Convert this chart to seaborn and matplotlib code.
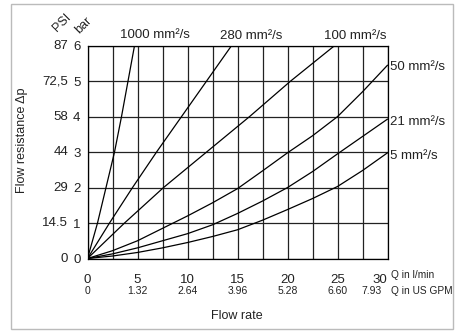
import numpy as np
import pandas as pd
import matplotlib
matplotlib.use('Agg')
import matplotlib.pyplot as plt
from matplotlib.patches import Rectangle
import seaborn as sns

# curves: flow rate Q (l/min) vs flow resistance dp (bar)
q_1000 = [0, 1.0, 1.85, 2.7, 3.4, 4.05, 4.7]
dp_1000 = [0, 1, 2, 3, 4, 5, 6]
q_280 = [0, 2.2, 4.5, 6.9, 9.4, 11.9, 14.4]
dp_280 = [0, 1, 2, 3, 4, 5, 6]
q_100 = [0, 3.7, 7.6, 11.9, 16.2, 20.3, 24.7]
dp_100 = [0, 1, 2, 3, 4, 5, 6]
q_low = [0, 2.5, 5, 7.5, 10, 12.5, 15, 17.5, 20, 22.5, 25, 27.5, 30]
dp_50 = [0, 0.22, 0.5, 0.85, 1.2, 1.57, 1.97, 2.47, 2.98, 3.46, 4.0, 4.7, 5.45]
dp_21 = [0, 0.13, 0.3, 0.5, 0.7, 0.95, 1.27, 1.62, 2.0, 2.45, 2.95, 3.44, 3.93]
dp_5 = [0, 0.07, 0.17, 0.3, 0.45, 0.62, 0.81, 1.08, 1.38, 1.69, 2.03, 2.48, 2.98]

bar_ticks = [0, 1, 2, 3, 4, 5, 6]
psi_labels = ['0', '14.5', '29', '44', '58', '72,5', '87']
lmin_ticks = [0, 5, 10, 15, 20, 25, 30]
gpm_labels = ['0', '1.32', '2.64', '3.96', '5.28', '6.60', '7.93']

df = pd.concat([
    pd.DataFrame({'Q': q_1000, 'dp': dp_1000, 'visc': '1000'}),
    pd.DataFrame({'Q': q_280, 'dp': dp_280, 'visc': '280'}),
    pd.DataFrame({'Q': q_100, 'dp': dp_100, 'visc': '100'}),
    pd.DataFrame({'Q': q_low, 'dp': dp_50, 'visc': '50'}),
    pd.DataFrame({'Q': q_low, 'dp': dp_21, 'visc': '21'}),
    pd.DataFrame({'Q': q_low, 'dp': dp_5, 'visc': '5'}),
], ignore_index=True)

sns.set_style('white')
plt.rcParams['font.family'] = ['Liberation Sans Narrow', 'Liberation Sans', 'DejaVu Sans']
plt.rcParams['text.color'] = '#222222'
plt.rcParams['xtick.labelcolor'] = '#222222'
plt.rcParams['ytick.labelcolor'] = '#222222'

W, H = 460, 331
fig = plt.figure(figsize=(W / 100, H / 100), dpi=100)
ax = fig.add_axes([87.5 / W, 1 - 258.5 / H, 300 / W, 212.8 / H])

sns.lineplot(data=df, x='Q', y='dp', units='visc', estimator=None,
             color='black', linewidth=0.9, sort=False, ax=ax, legend=False)

ax.set_xlim(0, 30)
ax.set_ylim(0, 6)
ax.set_xticks(np.arange(0, 30.1, 2.5))
ax.set_xticklabels([str(int(v)) if v % 5 == 0 else '' for v in np.arange(0, 30.1, 2.5)],
                   fontsize=9.5)
ax.get_xticklabels()[-1].set_ha('right')
ax.set_yticks(bar_ticks)
ax.set_yticklabels([str(v) for v in bar_ticks], fontsize=9.5)
ax.tick_params(direction='out', length=3, width=0.8, color='black', pad=2)
ax.tick_params(axis='x', pad=8)
ax.grid(True, color='#222222', linewidth=0.9)
for s in ax.spines.values():
    s.set_color('black')
    s.set_linewidth(0.9)
ax.set_xlabel('')
ax.set_ylabel('')

# PSI column
for v, lab in zip(bar_ticks, psi_labels):
    ax.text(-19.5 / 300, v, lab, transform=ax.get_yaxis_transform(),
            ha='right', va='center', fontsize=9.5)
# US GPM row (last one sits left of the axis end)
for v, lab in zip(lmin_ticks, gpm_labels):
    last = v == lmin_ticks[-1]
    ax.text(v - (0.55 if last else 0), -33 / 212.8, lab,
            transform=ax.get_xaxis_transform(),
            ha='right' if last else 'center', va='center', fontsize=7.5)

def ft(x, y, s, **kw):
    fig.text(x / W, 1 - y / H, s, **kw)

ft(391, 275, 'Q in l/min', ha='left', va='center', fontsize=7.3)
ft(391, 291.5, 'Q in US GPM', ha='left', va='center', fontsize=7.3)
ft(237, 316, 'Flow rate', ha='center', va='center', fontsize=9)
ft(22, 140, 'Flow resistance \u0394p', ha='center', va='center', rotation=90, fontsize=9)
ft(62, 23, 'PSI', ha='center', va='center', rotation=45, fontsize=9)
ft(83, 25, 'bar', ha='center', va='center', rotation=45, fontsize=9)

ft(155, 35, '1000 mm\u00b2/s', ha='center', va='center', fontsize=9.5)
ft(251, 36, '280 mm\u00b2/s', ha='center', va='center', fontsize=9.5)
ft(355, 36, '100 mm\u00b2/s', ha='center', va='center', fontsize=9.5)
ft(390, 67, '50 mm\u00b2/s', ha='left', va='center', fontsize=9.5)
ft(390, 122, '21 mm\u00b2/s', ha='left', va='center', fontsize=9.5)
ft(390, 156, '5 mm\u00b2/s', ha='left', va='center', fontsize=9.5)

fig.patches.append(Rectangle((11 / W, 1 - 329 / H), 442 / W, 325 / H,
                             transform=fig.transFigure, fill=False,
                             edgecolor='#bbbbbb', linewidth=1))

fig.savefig('out.png', dpi=100)
